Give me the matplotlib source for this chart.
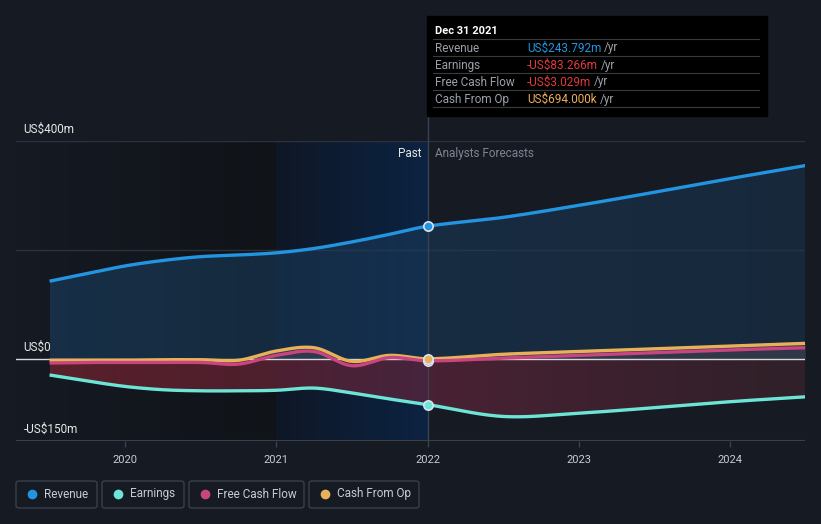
import numpy as np
import matplotlib.pyplot as plt
from matplotlib.patches import FancyBboxPatch, Rectangle
from matplotlib.colors import LinearSegmentedColormap

plt.rcParams['font.family'] = ['Roboto', 'DejaVu Sans']

# Data (US$ m)
years = [2019.5, 2019.75, 2020.0, 2020.25, 2020.5, 2020.75, 2021.0, 2021.25,
         2021.5, 2021.75, 2022.0]
revenue = [143, 157, 171, 181, 188, 191, 195, 203, 215, 229, 243.792]
earnings = [-29, -40, -50, -56, -58, -58, -57, -53, -62, -73, -83.266]
fcf = [-7, -6, -6, -6, -6, -9, 7, 14, -12, 3, -3.029]
cfo = [-2, -2, -2, -1, -1, -2, 15, 21, -4, 7, 0.694]

fc_years = [2022.0, 2022.5, 2023.0, 2023.5, 2024.0, 2024.5]
fc_revenue = [243.792, 260, 282, 306, 331, 355]
fc_earnings = [-83.266, -105, -99, -89, -78, -69]
fc_fcf = [-3.029, 2, 7, 12, 17, 21]
fc_cfo = [0.694, 9, 14, 19, 24, 29]

tick_years = [2020, 2021, 2022, 2023, 2024]
y_labels = {400: "US$400m", 0: "US$0", -150: "-US$150m"}

BG = "#151a23"
C_REV = "#2394df"
C_EARN = "#6ce5d6"
C_FCF = "#c9457f"
C_CFO = "#e8b058"


def smooth(x, y, n=400):
    # cubic hermite through the points
    x = np.asarray(x, float)
    y = np.asarray(y, float)
    xs, ys = [], []
    for i in range(len(x) - 1):
        xa, xb = x[i], x[i + 1]
        ya, yb = y[i], y[i + 1]
        m0 = (y[i + 1] - y[i - 1]) / (x[i + 1] - x[i - 1]) if i > 0 else (yb - ya) / (xb - xa)
        m1 = (y[i + 2] - y[i]) / (x[i + 2] - x[i]) if i < len(x) - 2 else (yb - ya) / (xb - xa)
        t = np.linspace(0, 1, n // (len(x) - 1), endpoint=False)
        h = xb - xa
        h00 = 2 * t**3 - 3 * t**2 + 1
        h10 = t**3 - 2 * t**2 + t
        h01 = -2 * t**3 + 3 * t**2
        h11 = t**3 - t**2
        xs.append(xa + t * h)
        ys.append(h00 * ya + h10 * h * m0 + h01 * yb + h11 * h * m1)
    xs.append([x[-1]])
    ys.append([y[-1]])
    return np.concatenate(xs), np.concatenate(ys)


def gradient_fill(ax, x, y, colors, alpha, z):
    poly = ax.fill_between(x, 0, y, color="none", lw=0)
    cmap = LinearSegmentedColormap.from_list("g", colors)
    lo, hi = min(0, y.min()), max(0, y.max())
    im = ax.imshow(np.linspace(0, 1, 200).reshape(1, -1), cmap=cmap,
                   aspect="auto", extent=[x.min(), x.max(), lo, hi],
                   alpha=alpha, zorder=z)
    im.set_clip_path(poly.get_paths()[0], transform=ax.transData)


fig = plt.figure(figsize=(8.21, 5.24), dpi=100, facecolor=BG)
W, H = 821, 524
ax = fig.add_axes([16 / W, (H - 441) / H, (805 - 16) / W, (441 - 141) / H])
ax.set_facecolor(BG)

x0, x1 = 2019.278, 2024.497
ymin, ymax = -150, 400

# background shading for the past
dark = LinearSegmentedColormap.from_list("d", ["#151a23", "#101318"])
ax.imshow(np.linspace(0, 1, 100).reshape(1, -1), cmap=dark, aspect="auto",
          extent=[x0, 2021.0, ymin, ymax], zorder=0)
past = LinearSegmentedColormap.from_list("p", ["#0f1726", "#0c2342"])
ax.imshow(np.linspace(0, 1, 100).reshape(1, -1), cmap=past, aspect="auto",
          extent=[2021.0, 2022.0, ymin, ymax], zorder=0)

# grid
for v in [400, 200]:
    ax.axhline(v, color="#2c323d", lw=1, zorder=1)
ax.axhline(0, color="#d8d8d8", lw=1, zorder=4)

all_x = years + fc_years[1:]
rx, ry = smooth(all_x, revenue + fc_revenue[1:])
ex, ey = smooth(all_x, earnings + fc_earnings[1:])
fx, fy = smooth(all_x, fcf + fc_fcf[1:])
cx, cy = smooth(all_x, cfo + fc_cfo[1:])

gradient_fill(ax, rx, ry, ["#1b4266", "#1a3550"], 0.55, 2)
gradient_fill(ax, ex, ey, ["#7a2430", "#62263c", "#3c232c"], 0.68, 2)
ax.fill_between(cx, 0, cy, color="#6b5a6a", alpha=0.3, lw=0, zorder=2)

ax.plot(rx, ry, color=C_REV, lw=2.4, zorder=5, solid_capstyle="butt")
ax.plot(ex, ey, color=C_EARN, lw=2.4, zorder=5, solid_capstyle="butt")
ax.plot(cx, cy, color=C_CFO, lw=2.4, zorder=5, solid_capstyle="butt")
ax.plot(fx, fy, color=C_FCF, lw=2.4, zorder=6, solid_capstyle="butt")

ax.set_xlim(x0, x1)
ax.set_ylim(ymin, ymax)

# markers at the last reported date
for val, col in [(revenue[-1], C_REV), (earnings[-1], C_EARN),
                 (fcf[-1], C_FCF), (cfo[-1], C_CFO)]:
    ax.scatter([2022.0], [val], s=45, color=col, edgecolor="#d8e4f0",
               linewidth=1.2, zorder=8)

# divider line
ax.plot([2022.0, 2022.0], [ymin, ymax + 230], color="#3a4250", lw=1,
        zorder=3, clip_on=False)

ax.text(2021.96, 378, "Past", color="#e6e6e6", fontsize=8.5, ha="right",
        va="center", zorder=9)
ax.text(2022.05, 378, "Analysts Forecasts", color="#7d8591", fontsize=8.5,
        ha="left", va="center", zorder=9)

# axes styling
for s in ax.spines.values():
    s.set_visible(False)
ax.axhline(ymin, color="#3a404b", lw=1.5, zorder=4)
ax.set_yticks([])
ax.set_xticks(tick_years)
ax.set_xticklabels([str(t) for t in tick_years], fontsize=8)
ax.tick_params(axis="x", colors="#3a404b", length=4, width=1, pad=6,
               labelcolor="#c8ccd2")

for v, lab in y_labels.items():
    ax.text(x0 + 0.05, v + 22, lab, color="#e6e6e6", fontsize=8.5, ha="left",
            va="center", zorder=9)

# tooltip box
fig.patches.append(Rectangle((427 / W, (H - 116) / H), 340 / W, 100 / H,
                             transform=fig.transFigure, color="#000000",
                             zorder=10))
fig.text(435 / W, (H - 31) / H, "Dec 31 2021", color="white", fontsize=8,
         va="center", zorder=11, fontweight="bold")
rows = [("Revenue", "US$243.792m", C_REV),
        ("Earnings", "-US$83.266m", "#e0393e"),
        ("Free Cash Flow", "-US$3.029m", "#e0393e"),
        ("Cash From Op", "US$694.000k", C_CFO)]
for i, (lab, val, col) in enumerate(rows):
    yy = 48 + i * 17
    fig.text(435 / W, (H - yy) / H, lab, color="#9aa0a8", fontsize=8.5,
             va="center", zorder=11)
    t = fig.text(527 / W, (H - yy) / H, val, color=col, fontsize=8.5,
                 va="center", zorder=11)
    fig.canvas.draw()
    bb = t.get_window_extent()
    fig.text(bb.x1 / W + 3 / W, (H - yy) / H, "/yr", color="#9aa0a8",
             fontsize=8.5, va="center", zorder=11)
    line_y = (H - (yy - 9)) / H
    fig.add_artist(plt.Line2D([433 / W, 759 / W], [line_y, line_y],
                              color="#3a3a3a", lw=0.8, zorder=11))
fig.add_artist(plt.Line2D([433 / W, 759 / W], [(H - 107) / H, (H - 107) / H],
                          color="#3a3a3a", lw=0.8, zorder=11))

# legend boxes
legend = [("Revenue", C_REV, 16, 97), ("Earnings", C_EARN, 102, 184),
          ("Free Cash Flow", C_FCF, 189, 304), ("Cash From Op", C_CFO, 309, 419)]
for lab, col, xa, xb in legend:
    fig.patches.append(FancyBboxPatch((xa / W, (H - 508) / H), (xb - xa) / W,
                                      27 / H, boxstyle="round,pad=0,rounding_size=0.004",
                                      transform=fig.transFigure, facecolor=BG,
                                      edgecolor="#3a404b", lw=1))
    fig.add_artist(plt.Line2D([(xa + 16) / W], [(H - 494) / H], marker="o",
                              markersize=6, color=col, lw=0))
    fig.text((xa + 28) / W, (H - 494) / H, lab, color="#c8ccd2", fontsize=8.5,
             va="center")

fig.savefig("out.png", dpi=100, facecolor=BG)
